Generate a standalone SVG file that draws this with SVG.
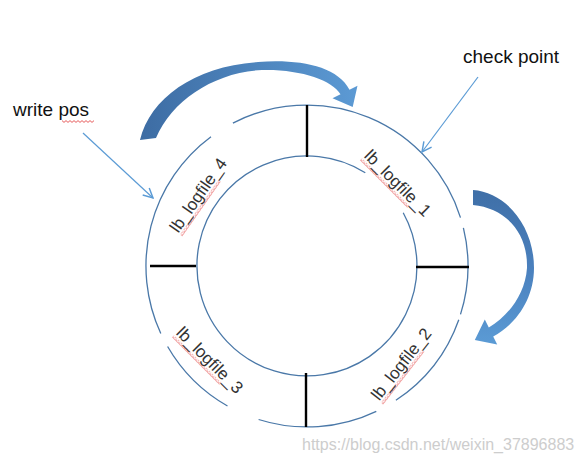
<svg xmlns="http://www.w3.org/2000/svg" width="580" height="463" viewBox="0 0 580 463">
  <style>
    .ring { fill: none; stroke: #4a78a8; stroke-width: 1.3; }
    .div { stroke: #000; stroke-width: 2.4; }
    .lbl { font-family: "Liberation Sans", Arial, sans-serif; font-size: 17px; fill: #333; text-anchor: middle; }
    .cap { font-family: "Liberation Sans", Arial, sans-serif; font-size: 19px; fill: #111; }
    .call { fill: none; stroke: #5b9bd5; stroke-width: 1.2; }
    .wm { font-family: "Liberation Sans", Arial, sans-serif; font-size: 16px; fill: #cdcdcd; }
  </style>
  <defs>
    <marker id="open" markerUnits="userSpaceOnUse" markerWidth="12" markerHeight="12" viewBox="0 0 10 10" refX="9" refY="5" orient="auto">
      <path d="M1,1 L9,5 L1,9" fill="none" stroke="#5b9bd5" stroke-width="1.2"/>
    </marker>
    <pattern id="wave" patternUnits="userSpaceOnUse" width="4" height="3">
      <path d="M0,2.4 L2,0.6 L4,2.4" fill="none" stroke="#e03030" stroke-width="0.8"/>
    </pattern>
    <linearGradient id="gTop" x1="0" y1="0" x2="1" y2="0">
      <stop offset="0" stop-color="#3d6ca3"/>
      <stop offset="1" stop-color="#5c9ad4"/>
    </linearGradient>
    <linearGradient id="gRight" x1="0" y1="0" x2="0" y2="1">
      <stop offset="0" stop-color="#3f6fa7"/>
      <stop offset="0.5" stop-color="#4a80bd"/>
      <stop offset="1" stop-color="#5b9bd5"/>
    </linearGradient>
  </defs>

  <g id="ring">
    <path class="ring" d="M232.9,123.1 A161,161 0 0 1 460.5,217.6"/>
    <path class="ring" d="M463.4,227.9 A161,161 0 0 1 460.5,314.4"/>
    <path class="ring" d="M458.8,319.7 A161,161 0 0 1 395.9,400.3"/>
    <path class="ring" d="M376.3,411.3 A161,161 0 0 1 258.6,419.5"/>
    <path class="ring" d="M227.5,406.0 A161,161 0 0 1 167.6,346.5"/>
    <path class="ring" d="M160.8,333.5 A161,161 0 0 1 211.0,136.7"/>
    <path class="ring" d="M403.2,212.7 A110,110 0 1 1 365.3,172.7"/>
    <line class="div" x1="307" y1="105" x2="307" y2="157"/>
    <line class="div" x1="306" y1="373" x2="306" y2="427"/>
    <line class="div" x1="150" y1="266" x2="196" y2="266"/>
    <line class="div" x1="416" y1="267" x2="469" y2="267"/>
  </g>

  <g id="lb_logfile_1" transform="translate(398,183) rotate(45)">
    <rect x="-43" y="8" width="67" height="3" fill="url(#wave)"/>
    <text class="lbl" x="0" y="6">lb_logfile_1</text>
  </g>
  <g id="lb_logfile_2" transform="translate(401,364) rotate(-52)">
    <rect x="-43" y="8" width="67" height="3" fill="url(#wave)"/>
    <text class="lbl" x="0" y="6">lb_logfile_2</text>
  </g>
  <g id="lb_logfile_3" transform="translate(210,360) rotate(45)">
    <rect x="-43" y="8" width="67" height="3" fill="url(#wave)"/>
    <text class="lbl" x="0" y="6">lb_logfile_3</text>
  </g>
  <g id="lb_logfile_4" transform="translate(198,195) rotate(-55)">
    <rect x="-43" y="8" width="67" height="3" fill="url(#wave)"/>
    <text class="lbl" x="0" y="6">lb_logfile_4</text>
  </g>

  <g id="write_pos">
    <text class="cap" x="13" y="116">write pos</text>
    <rect x="62" y="120" width="32" height="3" fill="url(#wave)"/>
  </g>
  <g id="check_point">
    <text class="cap" x="463" y="63">check point</text>
  </g>

  <g id="connectors">
    <line class="call" x1="83" y1="133" x2="153" y2="198" marker-end="url(#open)"/>
    <line class="call" x1="478" y1="77" x2="422" y2="152" marker-end="url(#open)"/>
    <path fill="url(#gTop)" d="M140,140 C150,98 195,66 258,62 C300,59 337,66 349.5,89.8 L357.5,85.7 L352.7,107.1 L332.5,98.3 L340.5,94.2 C332,80 300,69 262,70 C215,72 172,100 156,138 Z"/>
    <path fill="url(#gRight)" d="M473,190 C505,192 534,225 534,268 C534,300 515,325 493.2,336.5 L497.2,344.6 L474.8,339.9 L484.8,319.4 L488.8,327.5 C508,316 525,295 527,268 C528,232 505,208 473,205 Z"/>
  </g>

  <text class="wm" x="302" y="450">https://blog.csdn.net/weixin_37896883</text>
</svg>
